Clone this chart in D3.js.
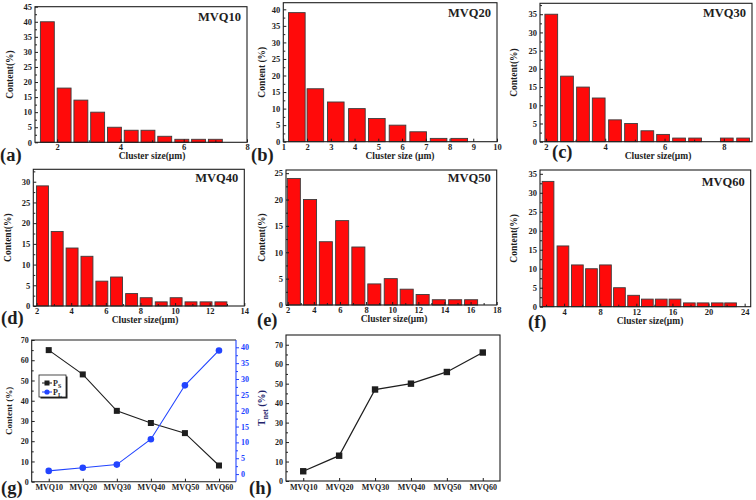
<!DOCTYPE html>
<html><head><meta charset="utf-8">
<script src="https://cdn.jsdelivr.net/npm/d3@7"></script>
<style>
body{margin:0;background:#fff}
svg{display:block}
text{font-family:"Liberation Serif","Times New Roman",serif;font-weight:bold}
</style>
</head><body>
<svg id="c" width="756" height="500"></svg>
<script>
// ---------- data ----------
const sizesA   = [1.69, 2.22, 2.75, 3.28, 3.81, 4.34, 4.87, 5.40, 5.94, 6.47, 7.00];
const contentA = [40, 18, 14, 10, 5, 4, 4, 2, 1, 1, 1];
const sizesB   = [1.57, 2.35, 3.21, 4.10, 4.94, 5.81, 6.68, 7.54, 8.41];
const contentB = [39, 16, 12, 10, 7, 5, 3, 1, 1];
const sizesC   = [2.18, 2.71, 3.25, 3.78, 4.33, 4.87, 5.42, 5.95, 6.49, 7.03, 8.10, 8.65];
const contentC = [35, 18, 15, 12, 6, 5, 3, 2, 1, 1, 1, 1];
const sizesD   = [2.34, 3.19, 4.05, 4.91, 5.77, 6.62, 7.49, 8.33, 9.20, 10.06, 10.92, 11.79, 12.65];
const contentD = [29, 18, 14, 12, 6, 7, 3, 2, 1, 2, 1, 1, 1];
const sizesE   = [2.47, 3.71, 4.92, 6.17, 7.41, 8.63, 9.89, 11.11, 12.33, 13.57, 14.82, 16.04];
const contentE = [24, 20, 12, 16, 11, 4, 5, 3, 2, 1, 1, 1];
const sizesF   = [2.22, 3.87, 5.47, 7.03, 8.58, 10.13, 11.70, 13.22, 14.76, 16.28, 17.87, 19.39, 20.97, 22.44];
const contentF = [33, 16, 11, 10, 11, 5, 3, 2, 2, 2, 1, 1, 1, 1];

const samples = ["MVQ10", "MVQ20", "MVQ30", "MVQ40", "MVQ50", "MVQ60"];
const pS   = [65, 53, 35, 29, 24, 8];
const pL   = [1, 2, 3, 11, 28, 39];
const tNet = [5, 13, 47, 50, 56, 66];

// ---------- layout ----------
const svg = d3.select("#c");
const INK = "#1e1e1e";
const BLUE = "#2244ff";

function styleAxis(sel, color, fs) {
  sel.select(".domain").remove();
  sel.selectAll("line").attr("stroke", color).attr("stroke-width", 1);
  sel.selectAll("text").attr("fill", color).style("font-size", fs + "px");
}
function frame(left, right, top, bottom) {
  svg.append("rect").attr("x", left).attr("y", top)
    .attr("width", right - left).attr("height", bottom - top)
    .attr("fill", "none").attr("stroke", INK).attr("stroke-width", 1.1);
}
function addText(t, x, y, fs, anchor, opts = {}) {
  const el = svg.append("text").attr("x", x).attr("y", y)
    .attr("text-anchor", anchor || "start").style("font-size", fs + "px")
    .attr("fill", opts.fill || INK).text(t);
  if (opts.rotate) el.attr("transform", `rotate(-90,${x},${y})`);
  return el;
}

const panels = [
  {sizes: sizesA, values: contentA, name: "MVQ10", lab: "(a)", xdom: [1.3, 8], ydom: [0, 45],
   left: 35, right: 247, top: 6.7, bottom: 142.3, bw: 0.44,
   xt: [2, 4, 6, 8], xm: [3, 5, 7], yt: d3.range(0, 46, 5), ym: d3.range(2.5, 45, 5),
   xtitle: "Cluster size(μm)", xtx: 152, ytitle: "Content(%)", ylx: 13, labx: 0, laby: 161, namey: 21},
  {sizes: sizesB, values: contentB, name: "MVQ20", lab: "(b)", xdom: [1, 10], ydom: [0, 42],
   left: 283.3, right: 497, top: 2.7, bottom: 141.7, bw: 0.70,
   xt: d3.range(1, 11), xm: [], yt: d3.range(0, 41, 5), ym: d3.range(2.5, 41, 5),
   xtitle: "Cluster size (μm)", xtx: 400, ytitle: "Content (%)", ylx: 265, labx: 251, laby: 161, namey: 17},
  {sizes: sizesC, values: contentC, name: "MVQ30", lab: "(c)", xdom: [1.8, 8.95], ydom: [0, 38],
   left: 540, right: 752, top: 3.3, bottom: 141.7, bw: 0.43,
   xt: [2, 4, 6, 8], xm: [3, 5, 7], yt: d3.range(0, 36, 5), ym: d3.range(2.5, 38, 5),
   xtitle: "Cluster size(μm)", xtx: 658, ytitle: "Content(%)", ylx: 517, labx: 552, laby: 158, namey: 17},
  {sizes: sizesD, values: contentD, name: "MVQ40", lab: "(d)", xdom: [1.81, 14], ydom: [0, 33],
   left: 33.3, right: 244.3, top: 169.3, bottom: 306, bw: 0.69,
   xt: d3.range(2, 15, 2), xm: d3.range(3, 14, 2), yt: d3.range(0, 31, 5), ym: d3.range(2.5, 33, 5),
   xtitle: "Cluster size(μm)", xtx: 145, ytitle: "Content(%)", ylx: 11, labx: 1, laby: 324, namey: 182},
  {sizes: sizesE, values: contentE, name: "MVQ50", lab: "(e)", xdom: [1.87, 18], ydom: [0, 25.6],
   left: 286, right: 496.7, top: 170, bottom: 305, bw: 1.0,
   xt: d3.range(2, 19, 2), xm: d3.range(3, 18, 2), yt: d3.range(0, 26, 5), ym: d3.range(2.5, 25.6, 5),
   xtitle: "Cluster size(μm)", xtx: 394, ytitle: "Content(%)", ylx: 265, labx: 257, laby: 326, namey: 182},
  {sizes: sizesF, values: contentF, name: "MVQ60", lab: "(f)", xdom: [1.33, 24.67], ydom: [0, 36],
   left: 540, right: 750.7, top: 170, bottom: 306.7, bw: 1.30,
   xt: d3.range(4, 25, 4), xm: d3.range(2, 25, 4), yt: d3.range(0, 36, 5), ym: d3.range(2.5, 36, 5),
   xtitle: "Cluster size(μm)", xtx: 650, ytitle: "Content(%)", ylx: 517, labx: 528, laby: 328, namey: 186},
];

panels.forEach(p => {
  const x = d3.scaleLinear().domain(p.xdom).range([p.left, p.right]);
  const y = d3.scaleLinear().domain(p.ydom).range([p.bottom, p.top]);
  const rows = p.sizes.map((s, i) => ({s, v: p.values[i]}));
  svg.append("g").selectAll("rect").data(rows).join("rect")
    .attr("x", d => x(d.s - p.bw / 2))
    .attr("width", d => x(d.s + p.bw / 2) - x(d.s - p.bw / 2))
    .attr("y", d => y(d.v)).attr("height", d => y(0) - y(d.v))
    .attr("fill", "#ff0a0a").attr("stroke", "#3c3c3c").attr("stroke-width", 0.9);

  const xa = svg.append("g").attr("transform", `translate(0,${p.bottom})`)
    .call(d3.axisBottom(x).tickValues(p.xt).tickSizeInner(-3).tickSizeOuter(0).tickPadding(2).tickFormat(d3.format("d")));
  styleAxis(xa, INK, 8.5);
  const xm = svg.append("g").attr("transform", `translate(0,${p.bottom})`)
    .call(d3.axisBottom(x).tickValues(p.xm).tickSizeInner(-2).tickSizeOuter(0).tickFormat(""));
  styleAxis(xm, INK, 8);
  const ya = svg.append("g").attr("transform", `translate(${p.left},0)`)
    .call(d3.axisLeft(y).tickValues(p.yt).tickSizeInner(-3).tickSizeOuter(0).tickPadding(3).tickFormat(d3.format("d")));
  styleAxis(ya, INK, 8.5);
  const ymn = svg.append("g").attr("transform", `translate(${p.left},0)`)
    .call(d3.axisLeft(y).tickValues(p.ym).tickSizeInner(-2).tickSizeOuter(0).tickFormat(""));
  styleAxis(ymn, INK, 8);
  frame(p.left, p.right, p.top, p.bottom);

  addText(p.name, p.right - 6, p.namey, 12.5, "end");
  addText(p.xtitle, p.xtx, p.bottom + 17, 9.5, "middle");
  addText(p.ytitle, p.ylx, (p.top + p.bottom) / 2, 9.5, "middle", {rotate: true});
  addText(p.lab, p.labx, p.laby, 18.5, "start");
});

// ---------- panel (g) ----------
{
  const left = 31.7, right = 236, top = 340, bottom = 481.7;
  const x = d3.scalePoint().domain(samples).range([left, right]).padding(0.5);
  const yL = d3.scaleLinear().domain([0, 70]).range([bottom, top]);
  const yR = d3.scaleLinear().domain([-2.4, 42.3]).range([bottom, top]);

  const xa = svg.append("g").attr("transform", `translate(0,${bottom})`)
    .call(d3.axisBottom(x).tickSizeInner(-3).tickSizeOuter(0).tickPadding(3));
  styleAxis(xa, INK, 8);
  const ya = svg.append("g").attr("transform", `translate(${left},0)`)
    .call(d3.axisLeft(yL).tickValues(d3.range(0, 71, 10)).tickSizeInner(-3).tickSizeOuter(0).tickPadding(3));
  styleAxis(ya, INK, 8);
  const yam = svg.append("g").attr("transform", `translate(${left},0)`)
    .call(d3.axisLeft(yL).tickValues(d3.range(5, 70, 10)).tickSizeInner(-2).tickSizeOuter(0).tickFormat(""));
  styleAxis(yam, INK, 8);
  svg.append("path").attr("d", `M${right},${top}H${left}V${bottom}H${right}`)
    .attr("fill", "none").attr("stroke", INK).attr("stroke-width", 1.1);
  svg.append("line").attr("x1", right).attr("x2", right).attr("y1", top).attr("y2", bottom)
    .attr("stroke", BLUE).attr("stroke-width", 1.1);
  const yr = svg.append("g").attr("transform", `translate(${right},0)`)
    .call(d3.axisRight(yR).tickValues(d3.range(0, 41, 5)).tickSizeInner(3).tickSizeOuter(0).tickPadding(2));
  styleAxis(yr, BLUE, 8);
  const yrm = svg.append("g").attr("transform", `translate(${right},0)`)
    .call(d3.axisRight(yR).tickValues(d3.range(2.5, 41, 5)).tickSizeInner(2).tickSizeOuter(0).tickFormat(""));
  styleAxis(yrm, BLUE, 8);

  const lineS = d3.line().x((d, i) => x(samples[i])).y(d => yL(d));
  const lineL = d3.line().x((d, i) => x(samples[i])).y(d => yR(d));
  svg.append("path").attr("d", lineS(pS)).attr("fill", "none").attr("stroke", INK).attr("stroke-width", 1.1);
  svg.append("path").attr("d", lineL(pL)).attr("fill", "none").attr("stroke", BLUE).attr("stroke-width", 1.1);
  svg.append("g").selectAll("rect").data(pS).join("rect")
    .attr("x", (d, i) => x(samples[i]) - 3).attr("y", d => yL(d) - 3)
    .attr("width", 6).attr("height", 6).attr("fill", INK);
  svg.append("g").selectAll("circle").data(pL).join("circle")
    .attr("cx", (d, i) => x(samples[i])).attr("cy", d => yR(d)).attr("r", 3.3).attr("fill", BLUE);

  // legend
  svg.append("rect").attr("x", 40.5).attr("y", 376.5).attr("width", 27).attr("height", 22).attr("fill", INK);
  svg.append("rect").attr("x", 39).attr("y", 375).attr("width", 27).attr("height", 22)
    .attr("fill", "#fff").attr("stroke", INK).attr("stroke-width", 0.8);
  svg.append("line").attr("x1", 42).attr("x2", 52).attr("y1", 383).attr("y2", 383).attr("stroke", INK).attr("stroke-width", 1);
  svg.append("rect").attr("x", 44.5).attr("y", 380.5).attr("width", 5).attr("height", 5).attr("fill", INK);
  svg.append("line").attr("x1", 42).attr("x2", 52).attr("y1", 392).attr("y2", 392).attr("stroke", BLUE).attr("stroke-width", 1);
  svg.append("circle").attr("cx", 47).attr("cy", 392).attr("r", 2.6).attr("fill", BLUE);
  const t1 = addText("P", 53, 386, 8, "start");
  t1.append("tspan").attr("dy", 1.5).style("font-size", "6px").text("S");
  const t2 = addText("P", 53, 395, 8, "start");
  t2.append("tspan").attr("dy", 1.5).style("font-size", "6px").text("L");

  addText("Content (%)", 12, (top + bottom) / 2, 9, "middle", {rotate: true});
  addText("(g)", 1, 494, 18.5, "start");
}

// ---------- panel (h) ----------
{
  const left = 286, right = 500, top = 335, bottom = 481;
  const x = d3.scalePoint().domain(samples).range([left, right]).padding(0.48);
  const y = d3.scaleLinear().domain([0, 75]).range([bottom, top]);
  const xa = svg.append("g").attr("transform", `translate(0,${bottom})`)
    .call(d3.axisBottom(x).tickSizeInner(-3).tickSizeOuter(0).tickPadding(3));
  styleAxis(xa, INK, 8);
  const ya = svg.append("g").attr("transform", `translate(${left},0)`)
    .call(d3.axisLeft(y).tickValues(d3.range(0, 71, 10)).tickSizeInner(-3).tickSizeOuter(0).tickPadding(3));
  styleAxis(ya, INK, 8);
  const yam = svg.append("g").attr("transform", `translate(${left},0)`)
    .call(d3.axisLeft(y).tickValues(d3.range(5, 75, 10)).tickSizeInner(-2).tickSizeOuter(0).tickFormat(""));
  styleAxis(yam, INK, 8);
  frame(left, right, top, bottom);
  const ln = d3.line().x((d, i) => x(samples[i])).y(d => y(d));
  svg.append("path").attr("d", ln(tNet)).attr("fill", "none").attr("stroke", INK).attr("stroke-width", 1.3);
  svg.append("g").selectAll("rect").data(tNet).join("rect")
    .attr("x", (d, i) => x(samples[i]) - 3.2).attr("y", d => y(d) - 3.2)
    .attr("width", 6.4).attr("height", 6.4).attr("fill", INK);
  const yl = addText("T", 265, (top + bottom) / 2, 10, "middle", {rotate: true, fill: "#22226a"});
  yl.append("tspan").attr("dy", 2.5).style("font-size", "7.5px").text("net");
  yl.append("tspan").attr("dy", -2.5).text(" (%)");
  addText("(h)", 249, 494, 18.5, "start");
}
</script>
</body></html>
